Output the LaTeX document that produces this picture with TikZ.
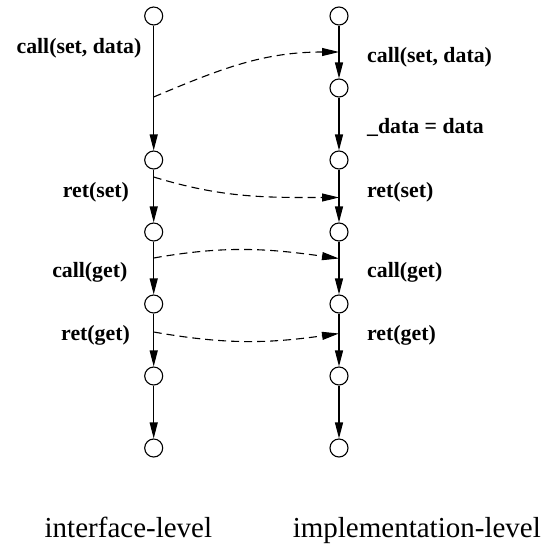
\documentclass[tikz,border=0pt]{standalone}
\usepackage{fontspec}
\setmainfont{Liberation Serif}
\usetikzlibrary{arrows.meta}
\begin{document}
\begin{tikzpicture}[x=1pt,y=-1pt,
  state/.style={circle,draw,fill=white,line width=1.1pt,minimum size=18pt,inner sep=0pt},
  flow/.style={line width=1.2pt,-{Triangle[length=16pt,width=8pt]}},
  msg/.style={line width=1.1pt,dash pattern=on 8pt off 5pt,-{Triangle[length=17pt,width=8pt]}},
  lab/.style={font=\fontsize{21.8}{26}\selectfont\bfseries,inner sep=0pt,anchor=base east},
  rlab/.style={font=\fontsize{21.8}{26}\selectfont\bfseries,inner sep=0pt,anchor=base west},
  title/.style={font=\fontsize{29}{34}\selectfont,inner sep=0pt,anchor=base}]
\useasboundingbox (0,0) rectangle (551,544);
% left column
\node[state] (l1) at (153.7,16) {};
\node[state] (l2) at (153.7,160) {};
\node[state] (l3) at (153.7,232) {};
\node[state] (l4) at (153.7,304) {};
\node[state] (l5) at (153.7,376) {};
\node[state] (l6) at (153.7,448) {};
% right column
\node[state] (r1) at (339,16) {};
\node[state] (r2) at (339,88) {};
\node[state] (r3) at (339,160) {};
\node[state] (r4) at (339,232) {};
\node[state] (r5) at (339,304) {};
\node[state] (r6) at (339,376) {};
\node[state] (r7) at (339,448) {};
\foreach \a/\b in {l1/l2,l2/l3,l3/l4,l4/l5,l5/l6,r1/r2,r2/r3,r3/r4,r4/r5,r5/r6,r6/r7}
  \draw[flow] (\a) -- (\b);
% message coordinates
\coordinate (a1) at (153.7,97);   \coordinate (b1) at (339,52);
\coordinate (a2) at (153.7,177);  \coordinate (b2) at (339,197.5);
\coordinate (a3) at (153.7,258);  \coordinate (b3) at (339,258.5);
\coordinate (a4) at (153.7,332);  \coordinate (b4) at (339,333.5);
\draw[msg] (a1) to[out=23,in=180] (b1);
\draw[msg] (a2) to[out=-17,in=180] (b2);
\draw[msg] (a3) to[out=10,in=172] (b3);
\draw[msg] (a4) to[out=-10,in=188] (b4);
% labels
\node[lab] (t1) at (141.5,53) {call(set, data)};
\node[lab] (t2) at (129.2,197.3) {ret(set)};
\node[lab] (t3) at (127.5,277.7) {call(get)};
\node[lab] (t4) at (130,340.5) {ret(get)};
\node[rlab] (u1) at (367,62.5) {call(set, data)};
\node[rlab] (u2) at (367,133.4) {\_data = data};
\node[rlab] (u3) at (367,197.3) {ret(set)};
\node[rlab] (u4) at (367,277.7) {call(get)};
\node[rlab] (u5) at (367,340.5) {ret(get)};
\node[title] (c1) at (128.4,537.5) {interface-level};
\node[title] (c2) at (416.8,537.5) {implementation-level};
\end{tikzpicture}
\end{document}
